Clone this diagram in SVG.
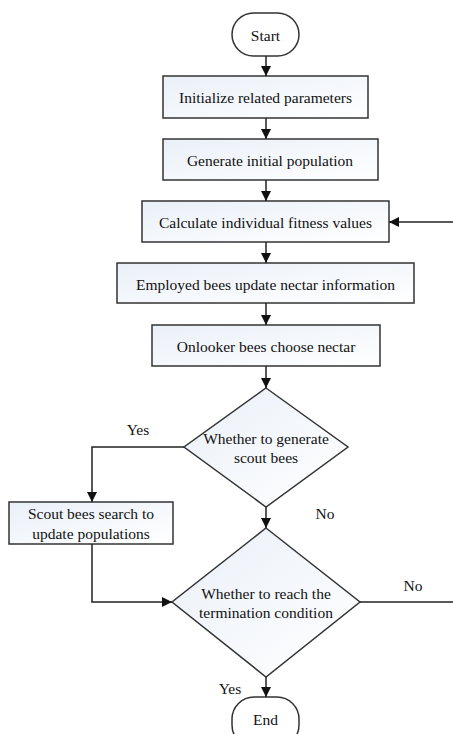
<svg xmlns="http://www.w3.org/2000/svg" width="453" height="734" viewBox="0 0 453 734">
<style>
.box{fill:url(#g);stroke:#333;stroke-width:1.5}
.term{fill:#fff;stroke:#333;stroke-width:1.5}
.t{font-family:"Liberation Serif","Times New Roman",serif;font-size:15.5px;fill:#111;text-anchor:middle;dominant-baseline:central}
.c{fill:none;stroke:#222;stroke-width:1.5;marker-end:url(#ah)}
.l{fill:none;stroke:#222;stroke-width:1.5}
</style>
<defs>
<linearGradient id="g" x1="0" y1="0" x2="1" y2="1">
<stop offset="0" stop-color="#eaf0f8"/>
<stop offset="1" stop-color="#ffffff"/>
</linearGradient>
<marker id="ah" viewBox="0 0 10 10" refX="10" refY="5" markerWidth="10" markerHeight="10" markerUnits="userSpaceOnUse" orient="auto">
<path d="M0,0 L10,5 L0,10 z" fill="#111"/>
</marker>
</defs>
<rect width="453" height="734" fill="#fff"/>
<g id="start"><rect class="term" x="232" y="13" width="67" height="43" rx="21.5"/><text class="t" x="265.5" y="35">Start</text></g>
<g id="init"><rect class="box" x="163" y="76" width="205" height="42"/><text class="t" x="265.5" y="97">Initialize related parameters</text></g>
<g id="gen"><rect class="box" x="163" y="139" width="215" height="41"/><text class="t" x="270" y="160">Generate initial population</text></g>
<g id="calc"><rect class="box" x="142" y="201" width="247" height="41"/><text class="t" x="265.5" y="222">Calculate individual fitness values</text></g>
<g id="employed"><rect class="box" x="117" y="263" width="297" height="40"/><text class="t" x="265.5" y="284">Employed bees update nectar information</text></g>
<g id="onlooker"><rect class="box" x="152" y="325" width="228" height="41"/><text class="t" x="266" y="346">Onlooker bees choose nectar</text></g>
<g id="dec1"><polygon class="box" points="266,388 348,447 266,507 184,447"/><text class="t" x="266" y="438">Whether to generate</text><text class="t" x="266" y="457">scout bees</text></g>
<g id="scout"><rect class="box" x="9" y="502" width="164" height="42"/><text class="t" x="91" y="513">Scout bees search to</text><text class="t" x="91" y="533">update populations</text></g>
<g id="dec2"><polygon class="box" points="266,528 360,602 266,677 172,602"/><text class="t" x="266" y="593">Whether to reach the</text><text class="t" x="266" y="612">termination condition</text></g>
<g id="end"><rect class="term" x="232" y="697" width="67" height="50" rx="22"/><text class="t" x="265.5" y="719">End</text></g>
<g id="connectors">
<path class="c" d="M266,56 V76"/>
<path class="c" d="M266,118 V139"/>
<path class="c" d="M266,180 V201"/>
<path class="c" d="M266,242 V263"/>
<path class="c" d="M266,303 V325"/>
<path class="c" d="M266,366 V388"/>
<path class="c" d="M184,447 H92 V502"/>
<path class="c" d="M266,507 V528"/>
<path class="c" d="M92,544 V602 H172"/>
<path class="l" d="M360,602 H453"/>
<path class="c" d="M453,222 H389"/>
<path class="c" d="M266,677 V697"/>
<text class="t" x="138" y="429">Yes</text>
<text class="t" x="325" y="513">No</text>
<text class="t" x="413" y="585">No</text>
<text class="t" x="230" y="688">Yes</text>
</g>
</svg>
